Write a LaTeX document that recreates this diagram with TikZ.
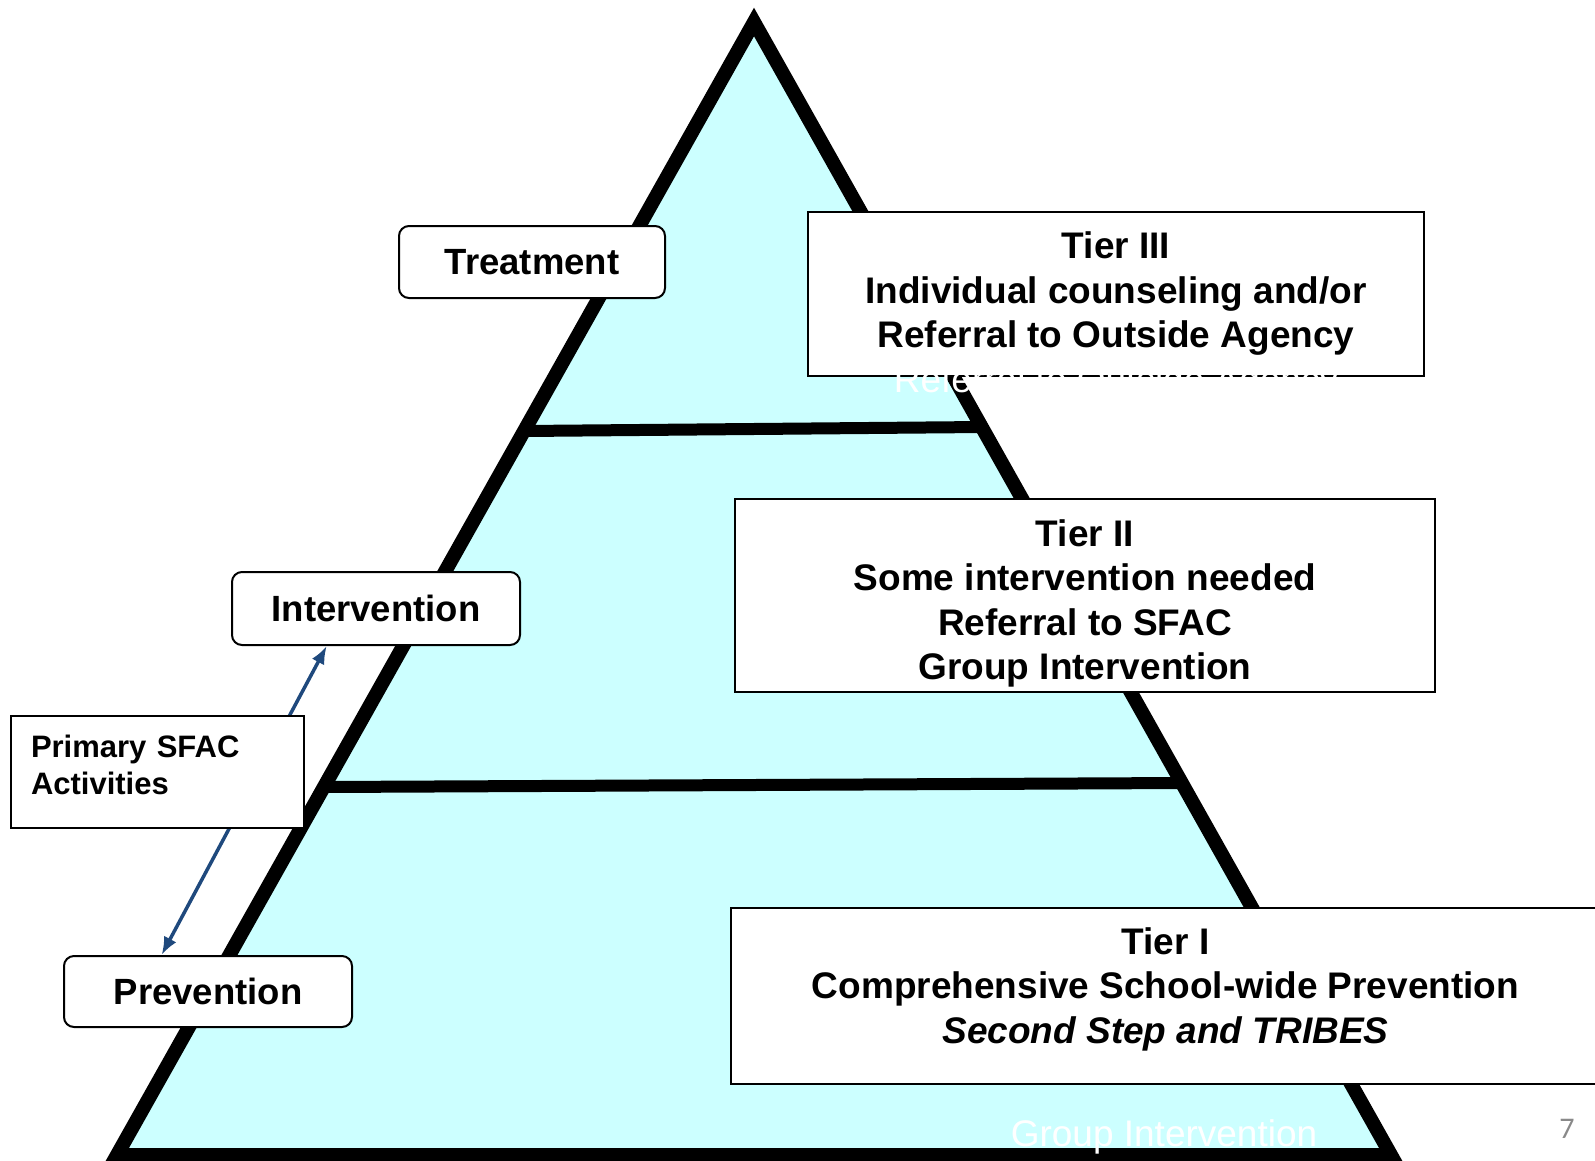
\documentclass[tikz,border=0pt]{standalone}
\usepackage{fontspec}
\setmainfont{Liberation Sans}
\newfontfamily\slidenum{Carlito}
\usetikzlibrary{arrows.meta,calc}
\definecolor{pyr}{RGB}{204,255,255}
\definecolor{arrowblue}{RGB}{31,73,125}
\definecolor{numgray}{RGB}{137,137,137}
\tikzset{
  tierbox/.style={draw=black, line width=2pt, fill=white, inner sep=0pt, align=center,
    font=\fontsize{37}{44.6}\selectfont\bfseries},
  levelbox/.style={draw=black, line width=2pt, fill=white, rounded corners=10pt, inner sep=0pt,
    font=\fontsize{36.5}{43}\selectfont\bfseries},
  sfacbox/.style={draw=black, line width=2pt, fill=white, inner xsep=20pt, inner ysep=0pt,
    align=left, font=\fontsize{31}{37}\selectfont\bfseries},
  ghost/.style={text=white, inner sep=0pt, font=\fontsize{37}{44}\selectfont},
  pyrline/.style={line width=14pt, line join=miter},
  barline/.style={line width=12pt},
  biarrow/.style={draw=arrowblue, line width=3.5pt, {Latex[length=18pt,width=14pt]}-{Latex[length=18pt,width=14pt]}}
}
\begin{document}
\begin{tikzpicture}[x=1pt,y=-1pt]
\useasboundingbox (0,0) rectangle (1595,1160);
% pyramid
\fill[pyr] (754,22) -- (117,1155) -- (1391,1155) -- cycle;
\draw[barline] (524,431) -- (982,427);
\draw[barline] (324,787) -- (1182,783);
\draw[pyrline] (754,22) -- (117,1155) -- (1391,1155) -- cycle;
% level labels
\node[levelbox, minimum width=266pt, minimum height=72pt] (treat) at (532,262) {Treatment};
\node[levelbox, minimum width=288pt, minimum height=73pt] (inter) at (376,608.5) {Intervention};
\node[levelbox, minimum width=288pt, minimum height=71pt] (prev) at (208,991.5) {Prevention};
% tier boxes
\node[tierbox, minimum width=616pt, minimum height=164pt] (t3) at (1116,294)
  {Tier III\\Individual counseling and/or\\Referral to Outside Agency\rule[-8.5pt]{0pt}{0pt}};
\node[tierbox, minimum width=700pt, minimum height=193pt] (t2) at (1085,595.5)
  {\rule{0pt}{42.8pt}Tier II\\Some intervention needed\\Referral to SFAC\\Group Intervention};
\node[tierbox, minimum width=869pt, minimum height=176pt] (t1) at (1165.5,996)
  {Tier I\\Comprehensive School-wide Prevention\\\textit{Second Step and TRIBES}\rule[-21.5pt]{0pt}{0pt}};
% arrow
\draw[biarrow] ($(inter.south west)!0.33!(inter.south east)$) -- ($(prev.north west)!0.34!(prev.north east)$);
\node[sfacbox, text width=253pt, minimum height=112pt] (sfac) at (157.5,772)
  {Primary SFAC\\Activities\rule[-15.2pt]{0pt}{0pt}};
% ghost texts
\node[ghost, anchor=base] (g1) at (1116,392) {Referral to Outside Agency};
\node[ghost, anchor=base] (g2) at (1164,1146) {Group Intervention};
\node[text=numgray, inner sep=0pt, font=\slidenum\fontsize{30}{36}\selectfont] (num) at (1567,1129) {7};
\end{tikzpicture}
\end{document}
